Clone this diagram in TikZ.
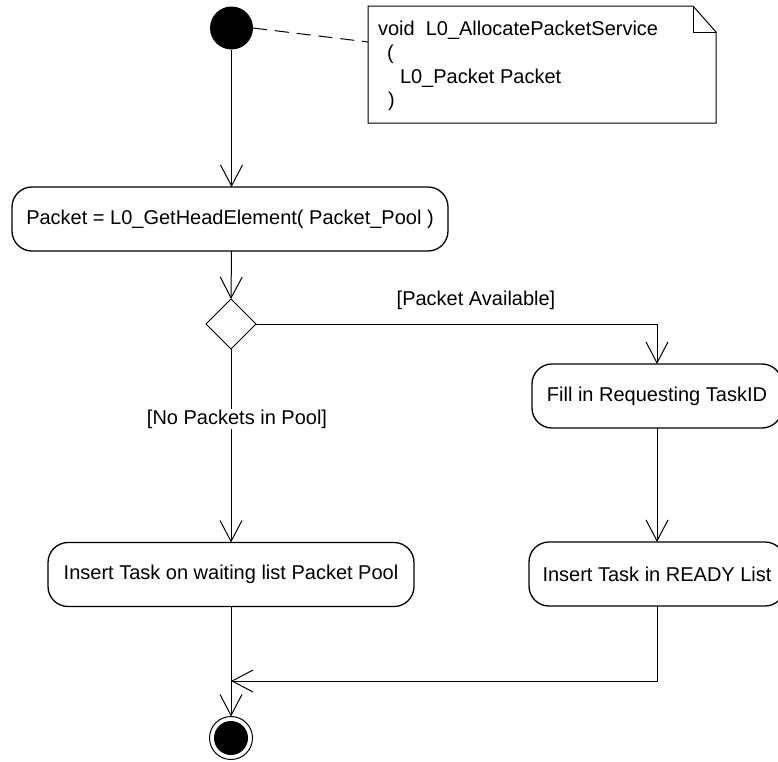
\documentclass[tikz,border=0pt]{standalone}
\usepackage{fontspec}
\setmainfont{Liberation Sans}
\usetikzlibrary{arrows.meta,shapes.geometric}

\begin{document}
\begin{tikzpicture}[x=1pt,y=-1pt,
  every node/.style={font=\fontsize{20}{24}\selectfont, outer sep=0pt},
  line/.style={draw, line width=1pt},
  flow/.style={line, -{Straight Barb[length=21pt,width=22pt,line width=1pt]}},
  action/.style={draw, line width=1.3pt, rounded corners=20pt, minimum height=64pt, inner sep=0pt},
  guard/.style={inner sep=1pt},
  notetext/.style={anchor=base west, inner sep=0pt}
]
\useasboundingbox (0,0) rectangle (778,761);

% initial and final states
\node[circle, fill=black, minimum size=43pt, inner sep=0pt] (start) at (231.5,28) {};
\node[circle, draw, line width=1pt, minimum size=43pt, inner sep=0pt] (final) at (231,738) {};
\node[circle, fill=black, minimum size=34pt, inner sep=0pt] (finaldot) at (final) {};

% comment note with folded corner
\coordinate (nTL) at (368,6);
\coordinate (nF1) at (693,6);
\coordinate (nF2) at (716,32);
\coordinate (nBR) at (716,123);
\coordinate (nBL) at (368,123);
\coordinate (nFC) at (693,32);
\path[line] (nTL) -- (nF1) -- (nF2) -- (nBR) -- (nBL) -- cycle;
\path[line] (nF1) -- (nFC) -- (nF2);
\node[notetext] (n1) at (378,35) {void\ \ L0\_AllocatePacketService};
\node[notetext] (n2) at (387,59.5) {(};
\node[notetext] (n3) at (400,83) {L0\_Packet Packet};
\node[notetext] (n4) at (388,106.5) {)};
\coordinate (nAnchor) at (368,42);
\draw[line, dash pattern=on 14pt off 8pt] (start.east) -- (nAnchor);

% actions
\node[action, minimum width=436pt] (head) at (230,219) {Packet = L0\_GetHeadElement( Packet\_Pool )};
\node[draw, diamond, aspect=1, line width=1pt, minimum width=50pt, minimum height=50pt, inner sep=0pt] (choice) at (231,324) {};
\node[action, minimum width=250pt] (fill) at (657,396) {Fill in Requesting TaskID};
\node[action, minimum width=256pt] (ready) at (657,574) {Insert Task in READY List};
\node[action, minimum width=366pt] (wait) at (231,574.5) {Insert Task on waiting list Packet Pool};

% guards
\node[guard] (gAvail) at (476,300) {[Packet Available]};
\coordinate (turn) at (657,324);
\coordinate (merge) at (231,681);
\coordinate (rcorner) at (657,681);

% connectors
\draw[flow] (start) -- (start |- head.north);
\draw[flow] (start |- head.south) -- (choice.north);
\draw[flow] (choice.east) -- (turn) -- (fill.north);
\draw[flow] (fill.south) -- (ready.north);
\draw[flow] (ready.south) -- (rcorner) -- (merge);
\draw[flow] (choice.south) -- (wait.north);
\draw[flow] (wait.south) -- (final.north);
\node[guard, fill=white] (gNone) at (237,419) {[No Packets in Pool]};
\end{tikzpicture}
\end{document}
